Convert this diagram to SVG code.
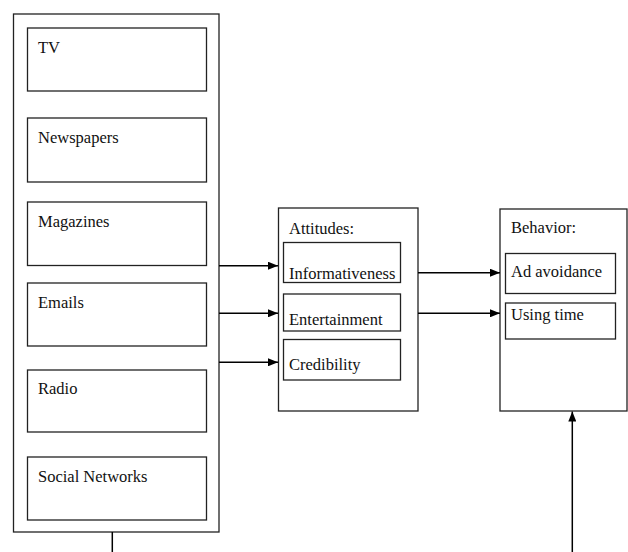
<svg xmlns="http://www.w3.org/2000/svg" width="628" height="552" viewBox="0 0 628 552">
<style>
.box{fill:#fff;stroke:#222;stroke-width:1.3}
.in{fill:none;stroke:#222;stroke-width:1.3}
.t{font-family:"Liberation Serif",serif;font-size:16.5px;fill:#111}
.c{stroke:#000;stroke-width:1.5;fill:none}
</style>
<defs>
<marker id="ah" viewBox="0 0 10 8" refX="10" refY="4" markerWidth="10" markerHeight="8" markerUnits="userSpaceOnUse" orient="auto">
<path d="M0,0L10,4L0,8z" fill="#000"/>
</marker>
</defs>
<g id="media">
<rect class="box" x="13.5" y="14" width="205.5" height="518"/>
<g id="tv"><rect class="in" x="27.5" y="28" width="179" height="63"/><text class="t" x="38" y="53">TV</text></g>
<g id="newspapers"><rect class="in" x="27.5" y="118" width="179" height="64"/><text class="t" x="38" y="143">Newspapers</text></g>
<g id="magazines"><rect class="in" x="27.5" y="202" width="179" height="63.5"/><text class="t" x="38" y="227">Magazines</text></g>
<g id="emails"><rect class="in" x="27.5" y="283" width="179" height="63"/><text class="t" x="38" y="308">Emails</text></g>
<g id="radio"><rect class="in" x="27.5" y="370" width="179" height="62"/><text class="t" x="38" y="394">Radio</text></g>
<g id="social"><rect class="in" x="27.5" y="457" width="179" height="63"/><text class="t" x="38" y="482">Social Networks</text></g>
</g>
<g id="attitudes">
<rect class="box" x="278.5" y="208" width="139.5" height="203"/>
<text class="t" x="289" y="234">Attitudes:</text>
<g id="informativeness"><rect class="in" x="283.5" y="242.5" width="117" height="40"/><text class="t" x="289" y="279">Informativeness</text></g>
<g id="entertainment"><rect class="in" x="283.5" y="294" width="117" height="37"/><text class="t" x="289" y="325">Entertainment</text></g>
<g id="credibility"><rect class="in" x="283.5" y="339.5" width="117" height="40.5"/><text class="t" x="289" y="370">Credibility</text></g>
</g>
<g id="behavior">
<rect class="box" x="500" y="209" width="127" height="202"/>
<text class="t" x="511" y="233">Behavior:</text>
<g id="adavoidance"><rect class="in" x="505.5" y="253.5" width="110" height="40"/><text class="t" x="511" y="277">Ad avoidance</text></g>
<g id="usingtime"><rect class="in" x="505.5" y="303" width="110" height="36"/><text class="t" x="511" y="320">Using time</text></g>
</g>
<g id="connectors">
<line class="c" x1="219" y1="265.7" x2="278" y2="265.7" marker-end="url(#ah)"/>
<line class="c" x1="219" y1="313.3" x2="278" y2="313.3" marker-end="url(#ah)"/>
<line class="c" x1="219" y1="362.3" x2="278" y2="362.3" marker-end="url(#ah)"/>
<line class="c" x1="418" y1="272.7" x2="500" y2="272.7" marker-end="url(#ah)"/>
<line class="c" x1="418" y1="313.3" x2="500" y2="313.3" marker-end="url(#ah)"/>
<line class="c" x1="572.3" y1="552" x2="572.3" y2="411.5" marker-end="url(#ah)"/>
<line class="c" x1="112.3" y1="532" x2="112.3" y2="552"/>
</g>
</svg>
